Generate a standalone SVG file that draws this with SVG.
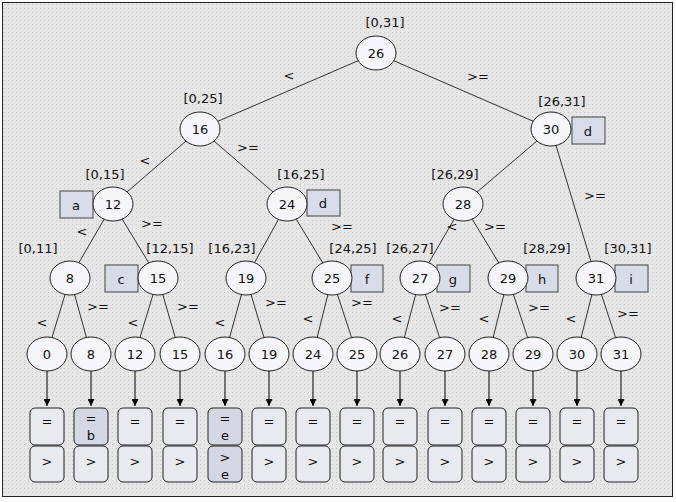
<svg xmlns="http://www.w3.org/2000/svg" width="676" height="502" viewBox="0 0 676 502">
<defs>
<pattern id="dots" width="4" height="4" patternUnits="userSpaceOnUse"><rect width="4" height="4" fill="#e6e6e6"/><rect width="1" height="1" fill="#c8c8c8"/></pattern>
<marker id="ar" viewBox="0 0 10 10" refX="10" refY="5" markerWidth="7" markerHeight="7" orient="auto"><path d="M0,0L10,5L0,10z" fill="#000"/></marker>
</defs>
<style>
text{font-family:"DejaVu Sans","Noto Sans",sans-serif;font-size:13px;fill:#111;text-anchor:middle;dominant-baseline:central}
.n ellipse{fill:#f6f6fa;stroke:#222;stroke-width:1}
.t{fill:#d8dce8;stroke:#444;stroke-width:1}
.b{fill:#e8eaf0;stroke:#222;stroke-width:1}
.bb{fill:#d4d8e4;stroke:#222;stroke-width:1}
#edges line{stroke:#333;stroke-width:1}
#arrows line{stroke:#000;stroke-width:1;marker-end:url(#ar)}
</style>
<rect x="1" y="1" width="674" height="500" fill="#fff"/>
<rect x="2.5" y="2.5" width="670" height="494" fill="url(#dots)" stroke="#222"/>
<g id="edges">
<line x1="376" y1="53" x2="200" y2="129"/><line x1="376" y1="53" x2="551" y2="129"/>
<line x1="200" y1="129" x2="113" y2="204"/><line x1="200" y1="129" x2="287" y2="204"/>
<line x1="551" y1="129" x2="463" y2="204"/><line x1="551" y1="129" x2="596" y2="278"/>
<line x1="113" y1="204" x2="70" y2="278"/><line x1="113" y1="204" x2="158" y2="278"/>
<line x1="287" y1="204" x2="246" y2="278"/><line x1="287" y1="204" x2="332" y2="278"/>
<line x1="463" y1="204" x2="420" y2="278"/><line x1="463" y1="204" x2="508" y2="278"/>
<line x1="70" y1="278" x2="47" y2="354"/><line x1="70" y1="278" x2="91" y2="354"/>
<line x1="158" y1="278" x2="135" y2="354"/><line x1="158" y1="278" x2="180" y2="354"/>
<line x1="246" y1="278" x2="225" y2="354"/><line x1="246" y1="278" x2="269" y2="354"/>
<line x1="332" y1="278" x2="313" y2="354"/><line x1="332" y1="278" x2="357" y2="354"/>
<line x1="420" y1="278" x2="400" y2="354"/><line x1="420" y1="278" x2="445" y2="354"/>
<line x1="508" y1="278" x2="489" y2="354"/><line x1="508" y1="278" x2="533" y2="354"/>
<line x1="596" y1="278" x2="577" y2="354"/><line x1="596" y1="278" x2="621" y2="354"/>
</g>
<g id="arrows">
<line x1="47" y1="371" x2="47" y2="406"/><line x1="91" y1="371" x2="91" y2="406"/>
<line x1="135" y1="371" x2="135" y2="406"/><line x1="180" y1="371" x2="180" y2="406"/>
<line x1="225" y1="371" x2="225" y2="406"/><line x1="269" y1="371" x2="269" y2="406"/>
<line x1="313" y1="371" x2="313" y2="406"/><line x1="357" y1="371" x2="357" y2="406"/>
<line x1="400" y1="371" x2="400" y2="406"/><line x1="445" y1="371" x2="445" y2="406"/>
<line x1="489" y1="371" x2="489" y2="406"/><line x1="533" y1="371" x2="533" y2="406"/>
<line x1="577" y1="371" x2="577" y2="406"/><line x1="621" y1="371" x2="621" y2="406"/>
</g>
<g id="edgelabels">
<text x="289" y="75">&lt;</text><text x="478" y="76">&gt;=</text>
<text x="145" y="160">&lt;</text><text x="248" y="147">&gt;=</text>
<text x="82" y="231">&lt;</text><text x="152" y="223">&gt;=</text>
<text x="342" y="226">&gt;=</text>
<text x="452" y="226">&lt;</text><text x="495" y="226">&gt;=</text>
<text x="595" y="195">&gt;=</text>
<text x="42" y="322">&lt;</text><text x="98" y="306">&gt;=</text>
<text x="133" y="322">&lt;</text><text x="188" y="306">&gt;=</text>
<text x="220" y="322">&lt;</text><text x="276" y="302">&gt;=</text>
<text x="308" y="318">&lt;</text><text x="362" y="302">&gt;=</text>
<text x="397" y="318">&lt;</text><text x="450" y="307">&gt;=</text>
<text x="484" y="318">&lt;</text><text x="539" y="307">&gt;=</text>
<text x="571" y="318">&lt;</text><text x="628" y="313">&gt;=</text>
</g>
<g id="ranges">
<text x="385" y="22">[0,31]</text><text x="203" y="98">[0,25]</text><text x="562" y="101">[26,31]</text>
<text x="105" y="174">[0,15]</text><text x="301" y="174">[16,25]</text><text x="455" y="174">[26,29]</text>
<text x="38" y="248">[0,11]</text><text x="170" y="248">[12,15]</text><text x="232" y="248">[16,23]</text>
<text x="353" y="248">[24,25]</text><text x="410" y="248">[26,27]</text><text x="547" y="248">[28,29]</text><text x="628" y="248">[30,31]</text>
</g>
<g id="tags">
<rect class="t" x="60" y="191" width="33" height="27"/><text x="76" y="205">a</text>
<rect class="t" x="572" y="117" width="33" height="27"/><text x="588" y="131">d</text>
<rect class="t" x="307" y="190" width="33" height="26"/><text x="323" y="203">d</text>
<rect class="t" x="105" y="265" width="33" height="27"/><text x="121" y="279">c</text>
<rect class="t" x="351" y="265" width="32" height="27"/><text x="367" y="279">f</text>
<rect class="t" x="437" y="265" width="33" height="27"/><text x="453" y="279">g</text>
<rect class="t" x="526" y="265" width="32" height="27"/><text x="542" y="279">h</text>
<rect class="t" x="615" y="265" width="33" height="27"/><text x="631" y="279">i</text>
</g>
<g id="nodes" class="n">
<g id="n26"><ellipse cx="376" cy="53" rx="20" ry="17"/><text x="376" y="53">26</text></g>
<g id="n16"><ellipse cx="200" cy="129" rx="20" ry="17"/><text x="200" y="129">16</text></g>
<g id="n30"><ellipse cx="551" cy="129" rx="20" ry="17"/><text x="551" y="129">30</text></g>
<g id="n12"><ellipse cx="113" cy="204" rx="20" ry="17"/><text x="113" y="204">12</text></g>
<g id="n24"><ellipse cx="287" cy="204" rx="20" ry="17"/><text x="287" y="204">24</text></g>
<g id="n28"><ellipse cx="463" cy="204" rx="20" ry="17"/><text x="463" y="204">28</text></g>
<g id="n8"><ellipse cx="70" cy="278" rx="20" ry="17"/><text x="70" y="278">8</text></g>
<g id="n15"><ellipse cx="158" cy="278" rx="20" ry="17"/><text x="158" y="278">15</text></g>
<g id="n19"><ellipse cx="246" cy="278" rx="20" ry="17"/><text x="246" y="278">19</text></g>
<g id="n25"><ellipse cx="332" cy="278" rx="20" ry="17"/><text x="332" y="278">25</text></g>
<g id="n27"><ellipse cx="420" cy="278" rx="20" ry="17"/><text x="420" y="278">27</text></g>
<g id="n29"><ellipse cx="508" cy="278" rx="20" ry="17"/><text x="508" y="278">29</text></g>
<g id="n31"><ellipse cx="596" cy="278" rx="20" ry="17"/><text x="596" y="278">31</text></g>
<g id="l0"><ellipse cx="47" cy="354" rx="20" ry="17"/><text x="47" y="354">0</text></g>
<g id="l8"><ellipse cx="91" cy="354" rx="20" ry="17"/><text x="91" y="354">8</text></g>
<g id="l12"><ellipse cx="135" cy="354" rx="20" ry="17"/><text x="135" y="354">12</text></g>
<g id="l15"><ellipse cx="180" cy="354" rx="20" ry="17"/><text x="180" y="354">15</text></g>
<g id="l16"><ellipse cx="225" cy="354" rx="20" ry="17"/><text x="225" y="354">16</text></g>
<g id="l19"><ellipse cx="269" cy="354" rx="20" ry="17"/><text x="269" y="354">19</text></g>
<g id="l24"><ellipse cx="313" cy="354" rx="20" ry="17"/><text x="313" y="354">24</text></g>
<g id="l25"><ellipse cx="357" cy="354" rx="20" ry="17"/><text x="357" y="354">25</text></g>
<g id="l26"><ellipse cx="400" cy="354" rx="20" ry="17"/><text x="400" y="354">26</text></g>
<g id="l27"><ellipse cx="445" cy="354" rx="20" ry="17"/><text x="445" y="354">27</text></g>
<g id="l28"><ellipse cx="489" cy="354" rx="20" ry="17"/><text x="489" y="354">28</text></g>
<g id="l29"><ellipse cx="533" cy="354" rx="20" ry="17"/><text x="533" y="354">29</text></g>
<g id="l30"><ellipse cx="577" cy="354" rx="20" ry="17"/><text x="577" y="354">30</text></g>
<g id="l31"><ellipse cx="621" cy="354" rx="20" ry="17"/><text x="621" y="354">31</text></g>
</g>
<g id="buckets">
<g><rect class="b" x="30" y="408" width="34" height="37" rx="5"/><text x="47" y="421">=</text><rect class="b" x="30" y="446" width="34" height="36" rx="5"/><text x="47" y="461">&gt;</text></g>
<g><rect class="bb" x="74" y="408" width="34" height="37" rx="5"/><text x="91" y="418">=</text><text x="91" y="435">b</text><rect class="b" x="74" y="446" width="34" height="36" rx="5"/><text x="91" y="461">&gt;</text></g>
<g><rect class="b" x="118" y="408" width="34" height="37" rx="5"/><text x="135" y="421">=</text><rect class="b" x="118" y="446" width="34" height="36" rx="5"/><text x="135" y="461">&gt;</text></g>
<g><rect class="b" x="163" y="408" width="34" height="37" rx="5"/><text x="180" y="421">=</text><rect class="b" x="163" y="446" width="34" height="36" rx="5"/><text x="180" y="461">&gt;</text></g>
<g><rect class="bb" x="208" y="408" width="34" height="37" rx="5"/><text x="225" y="418">=</text><text x="225" y="435">e</text><rect class="bb" x="208" y="446" width="34" height="36" rx="5"/><text x="225" y="457">&gt;</text><text x="225" y="474">e</text></g>
<g><rect class="b" x="252" y="408" width="34" height="37" rx="5"/><text x="269" y="421">=</text><rect class="b" x="252" y="446" width="34" height="36" rx="5"/><text x="269" y="461">&gt;</text></g>
<g><rect class="b" x="296" y="408" width="34" height="37" rx="5"/><text x="313" y="421">=</text><rect class="b" x="296" y="446" width="34" height="36" rx="5"/><text x="313" y="461">&gt;</text></g>
<g><rect class="b" x="340" y="408" width="34" height="37" rx="5"/><text x="357" y="421">=</text><rect class="b" x="340" y="446" width="34" height="36" rx="5"/><text x="357" y="461">&gt;</text></g>
<g><rect class="b" x="383" y="408" width="34" height="37" rx="5"/><text x="400" y="421">=</text><rect class="b" x="383" y="446" width="34" height="36" rx="5"/><text x="400" y="461">&gt;</text></g>
<g><rect class="b" x="428" y="408" width="34" height="37" rx="5"/><text x="445" y="421">=</text><rect class="b" x="428" y="446" width="34" height="36" rx="5"/><text x="445" y="461">&gt;</text></g>
<g><rect class="b" x="472" y="408" width="34" height="37" rx="5"/><text x="489" y="421">=</text><rect class="b" x="472" y="446" width="34" height="36" rx="5"/><text x="489" y="461">&gt;</text></g>
<g><rect class="b" x="516" y="408" width="34" height="37" rx="5"/><text x="533" y="421">=</text><rect class="b" x="516" y="446" width="34" height="36" rx="5"/><text x="533" y="461">&gt;</text></g>
<g><rect class="b" x="560" y="408" width="34" height="37" rx="5"/><text x="577" y="421">=</text><rect class="b" x="560" y="446" width="34" height="36" rx="5"/><text x="577" y="461">&gt;</text></g>
<g><rect class="b" x="604" y="408" width="34" height="37" rx="5"/><text x="621" y="421">=</text><rect class="b" x="604" y="446" width="34" height="36" rx="5"/><text x="621" y="461">&gt;</text></g>
</g>
</svg>
